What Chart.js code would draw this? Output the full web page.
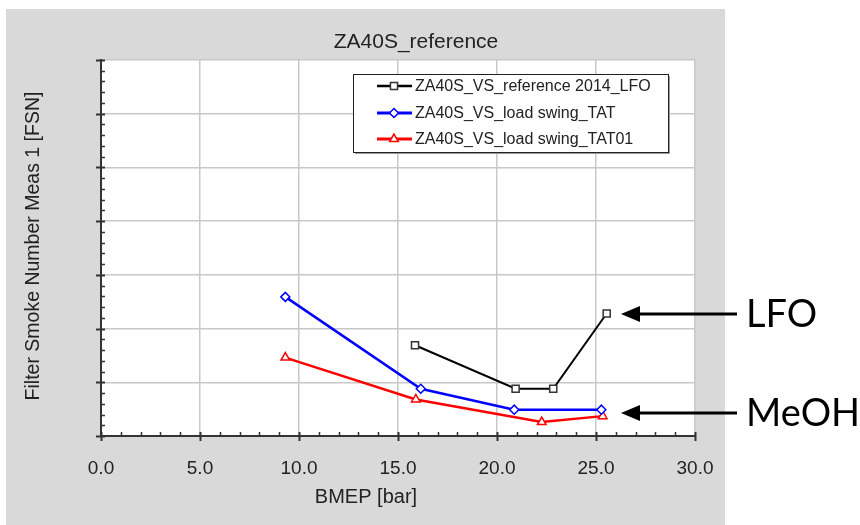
<!DOCTYPE html>
<html><head><meta charset="utf-8">
<script src="https://cdn.jsdelivr.net/npm/chart.js@4/dist/chart.umd.min.js"></script>
<style>html,body{margin:0;padding:0;background:#fff;}#wrap{width:860px;height:525px;}</style>
</head><body><div id="wrap"><canvas id="c" width="860" height="525"></canvas></div>
<script>
const chartTitle = 'ZA40S_reference';
const xAxisTitle = 'BMEP [bar]';
const yAxisTitle = 'Filter Smoke Number Meas 1 [FSN]';
const seriesNames = ['ZA40S_VS_reference 2014_LFO', 'ZA40S_VS_load swing_TAT', 'ZA40S_VS_load swing_TAT01'];
const lfoX = [15.86, 20.94, 22.84, 25.54];
const lfoY = [0.169, 0.088, 0.088, 0.228];
const tatX = [9.31, 16.15, 20.87, 25.27];
const tatY = [0.259, 0.088, 0.049, 0.049];
const tat01X = [9.31, 15.90, 22.26, 25.34];
const tat01Y = [0.146, 0.068, 0.026, 0.037];
const xTickValues = [0, 5, 10, 15, 20, 25, 30];
const xTickLabels = ['0.0', '5.0', '10.0', '15.0', '20.0', '25.0', '30.0'];
const yMajorValues = [0, 0.1, 0.2, 0.3, 0.4, 0.5, 0.6, 0.7];
const calloutLabels = ['LFO', 'MeOH'];
const calloutValues = [0.227, 0.043];

const FONT = "'Liberation Sans', Arial, sans-serif";
const pts = (xs, ys) => xs.map((x, i) => ({x: x, y: ys[i]}));

const bgPlugin = {
  id: 'bg',
  beforeDraw(chart) {
    const ctx = chart.ctx, a = chart.chartArea;
    ctx.save();
    ctx.fillStyle = '#ffffff';
    ctx.fillRect(0, 0, chart.width, chart.height);
    ctx.fillStyle = '#d9d9d9';
    ctx.fillRect(6, 9, 719, 516);
    ctx.fillStyle = '#ffffff';
    ctx.fillRect(a.left, a.top, a.right - a.left, a.bottom - a.top);
    ctx.restore();
  }
};

const decoPlugin = {
  id: 'deco',
  beforeDatasetsDraw(chart) {
    const ctx = chart.ctx, a = chart.chartArea;
    const xs = chart.scales.x, ys = chart.scales.y;
    ctx.save();
    ctx.strokeStyle = '#333';
    for (let i = 0; i <= 35; i++) {
      const v = i * 0.02;
      const py = Math.round(ys.getPixelForValue(v)) + 0.5;
      ctx.beginPath();
      if (i % 5 === 0) { ctx.lineWidth = 2; ctx.moveTo(a.left - 5, py); ctx.lineTo(a.left + 4, py); }
      else { ctx.lineWidth = 1.5; ctx.moveTo(a.left, py); ctx.lineTo(a.left + 4, py); }
      ctx.stroke();
    }
    for (let i = 0; i <= 30; i++) {
      const px = Math.round(xs.getPixelForValue(i)) + 0.5;
      ctx.beginPath();
      if (i % 5 === 0) { ctx.lineWidth = 2; ctx.moveTo(px, a.bottom - 4); ctx.lineTo(px, a.bottom + 5); }
      else { ctx.lineWidth = 1.5; ctx.moveTo(px, a.bottom - 4); ctx.lineTo(px, a.bottom); }
      ctx.stroke();
    }
    ctx.restore();
  },
  afterDraw(chart) {
    const ctx = chart.ctx;
    const ys = chart.scales.y;
    ctx.save();
    ctx.fillStyle = '#222';
    ctx.font = '21px ' + FONT;
    ctx.textAlign = 'center';
    ctx.textBaseline = 'middle';
    ctx.fillText(chartTitle, 416, 42);
    ctx.font = '20px ' + FONT;
    ctx.fillText(xAxisTitle, 366, 497);
    ctx.save();
    ctx.translate(34, 246);
    ctx.rotate(-Math.PI / 2);
    ctx.font = '19.5px ' + FONT;
    ctx.fillText(yAxisTitle, 0, 0);
    ctx.restore();

    const lx = 353, ly = 74, lw = 315, lh = 78;
    ctx.fillStyle = '#9a9a9a';
    ctx.fillRect(lx + 2, ly + 2, lw, lh);
    ctx.fillStyle = '#fff';
    ctx.fillRect(lx, ly, lw, lh);
    ctx.strokeStyle = '#222';
    ctx.lineWidth = 1;
    ctx.strokeRect(lx + 0.5, ly + 0.5, lw, lh);
    const rows = [86, 113, 139];
    chart.data.datasets.forEach((ds, i) => {
      const y = rows[i];
      ctx.strokeStyle = ds.borderColor;
      ctx.lineWidth = ds.borderWidth + 0.5;
      ctx.beginPath(); ctx.moveTo(377, y); ctx.lineTo(412, y); ctx.stroke();
      ctx.lineWidth = 1.5;
      ctx.strokeStyle = ds.pointBorderColor;
      ctx.fillStyle = '#ffffff';
      Chart.helpers.drawPoint(ctx, {pointStyle: ds.pointStyle, radius: ds.pointRadius, borderWidth: 1.5, rotation: 0}, 394, y);
      ctx.fillStyle = '#222';
      ctx.font = '16px ' + FONT;
      ctx.textAlign = 'left';
      ctx.textBaseline = 'middle';
      ctx.fillText(ds.label, 415, y + 1);
    });

    calloutLabels.forEach((lab, i) => {
      const y = Math.round(ys.getPixelForValue(calloutValues[i]));
      ctx.fillStyle = '#000';
      ctx.strokeStyle = '#000';
      ctx.lineWidth = 3;
      ctx.beginPath(); ctx.moveTo(636, y); ctx.lineTo(737, y); ctx.stroke();
      ctx.beginPath(); ctx.moveTo(621, y); ctx.lineTo(640, y - 8); ctx.lineTo(640, y + 8); ctx.closePath(); ctx.fill();
      ctx.font = "38px Lato, 'Open Sans', sans-serif";
      ctx.textAlign = 'left';
      ctx.textBaseline = 'middle';
      ctx.fillText(lab, 746, y + 1);
    });
    ctx.restore();
  }
};

const mkDs = (label, data, color, style, radius, width) => ({
  label: label, data: data, borderColor: color, backgroundColor: '#fff',
  borderWidth: width, pointStyle: style, pointRadius: radius, pointBorderWidth: 1.5,
  pointBackgroundColor: '#fff', pointBorderColor: color === '#000' ? '#333' : color,
  showLine: true, tension: 0, clip: false
});

new Chart(document.getElementById('c'), {
  type: 'scatter',
  data: {
    datasets: [
      mkDs(seriesNames[0], pts(lfoX, lfoY), '#000', 'rect', 5, 2),
      mkDs(seriesNames[1], pts(tatX, tatY), '#0000ff', 'rectRot', 4.5, 2.5),
      mkDs(seriesNames[2], pts(tat01X, tat01Y), '#ff0000', 'triangle', 5, 2.5)
    ]
  },
  options: {
    responsive: false, animation: false, devicePixelRatio: 1,
    layout: {padding: {left: 6, right: 165, top: 60, bottom: 0}},
    plugins: {legend: {display: false}, title: {display: false}, tooltip: {enabled: false}},
    scales: {
      x: {
        type: 'linear', min: 0, max: 30,
        afterFit(s) { s.height = 89; },
        afterBuildTicks(s) { s.ticks = xTickValues.map(v => ({value: v})); },
        ticks: {
          padding: 21, color: '#222', font: {family: FONT, size: 19},
          callback: (v) => xTickLabels[xTickValues.indexOf(v)]
        },
        grid: {color: '#c8c8c8', lineWidth: 1.5, drawTicks: false},
        border: {display: true, color: '#333', width: 2}
      },
      y: {
        type: 'linear', min: 0, max: 0.7,
        afterFit(s) { s.width = 95; },
        afterBuildTicks(s) { s.ticks = yMajorValues.map(v => ({value: v})); },
        ticks: {display: false},
        grid: {color: '#c8c8c8', lineWidth: 1.5, drawTicks: false},
        border: {display: true, color: '#333', width: 2}
      }
    }
  },
  plugins: [bgPlugin, decoPlugin]
});
</script></body></html>
